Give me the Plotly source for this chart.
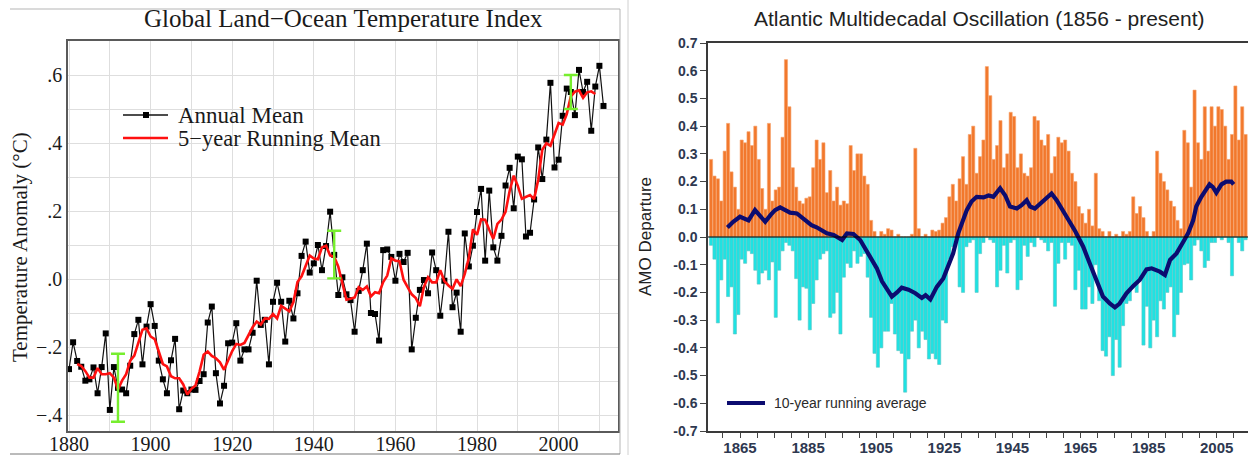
import plotly.graph_objects as go

W, H = 1248, 455

# ---------------- Left panel: Global Land-Ocean Temperature Index ----------------
giss_years = list(range(1880, 2012))
annual_mean = [
    -0.265, -0.186, -0.241, -0.258, -0.299, -0.295, -0.260, -0.336, -0.259, -0.160,   # 1880s
    -0.385, -0.259, -0.320, -0.325, -0.336, -0.255, -0.162, -0.120, -0.251, -0.140,   # 1890s
    -0.074, -0.138, -0.240, -0.295, -0.336, -0.239, -0.176, -0.383, -0.328, -0.336,   # 1900s
    -0.325, -0.326, -0.300, -0.280, -0.128, -0.081, -0.277, -0.366, -0.314, -0.189,   # 1910s
    -0.187, -0.130, -0.240, -0.207, -0.207, -0.158, -0.005, -0.135, -0.120, -0.251,   # 1920s
    -0.067, -0.011, -0.067, -0.184, -0.064, -0.116, -0.042, 0.068, 0.110, 0.019,      # 1930s
    0.046, 0.100, 0.026, 0.097, 0.198, 0.071, -0.047, 0.005, -0.045, -0.062,          # 1940s
    -0.155, -0.035, 0.026, 0.104, -0.100, -0.103, -0.181, 0.085, 0.087, 0.065,        # 1950s
    -0.005, 0.074, 0.050, 0.077, -0.207, -0.114, -0.032, -0.003, -0.042, 0.078,       # 1960s
    0.026, -0.108, -0.005, 0.139, -0.083, -0.040, -0.155, 0.134, 0.037, 0.098,        # 1970s
    0.197, 0.265, 0.054, 0.260, 0.093, 0.054, 0.127, 0.275, 0.327, 0.208,             # 1980s
    0.360, 0.352, 0.125, 0.136, 0.234, 0.387, 0.294, 0.410, 0.577, 0.328,             # 1990s
    0.351, 0.480, 0.560, 0.550, 0.482, 0.615, 0.550, 0.580, 0.436, 0.566,             # 2000s
    0.627, 0.509,                                                                     # 2010-11
]
run5_years = list(range(1882, 2010))
run5_mean = [
    -0.250, -0.256, -0.271, -0.290, -0.290, -0.262, -0.280, -0.280,                   # 1882-89
    -0.277, -0.290, -0.325, -0.299, -0.280, -0.240, -0.225, -0.186, -0.149, -0.145,   # 1890s
    -0.169, -0.177, -0.217, -0.250, -0.257, -0.286, -0.292, -0.292, -0.310, -0.340,   # 1900s
    -0.323, -0.313, -0.272, -0.223, -0.213, -0.226, -0.233, -0.245, -0.267, -0.237,   # 1910s
    -0.212, -0.191, -0.194, -0.188, -0.163, -0.142, -0.125, -0.134, -0.116, -0.117,   # 1920s
    -0.103, -0.116, -0.079, -0.088, -0.095, -0.068, -0.009, 0.008, 0.040, 0.069,      # 1930s
    0.060, 0.058, 0.093, 0.098, 0.069, 0.065, 0.036, -0.016, -0.061, -0.058,          # 1940s
    -0.054, -0.024, -0.032, -0.022, -0.051, -0.039, -0.042, -0.009, 0.010, 0.061,     # 1950s
    0.054, 0.052, -0.002, -0.024, -0.045, -0.056, -0.080, -0.023, 0.005, -0.010,      # 1960s
    -0.010, 0.026, -0.006, -0.019, -0.029, -0.001, -0.021, 0.015, 0.062, 0.146,       # 1970s
    0.130, 0.175, 0.174, 0.145, 0.118, 0.162, 0.175, 0.198, 0.259, 0.304,             # 1980s
    0.274, 0.236, 0.241, 0.247, 0.235, 0.292, 0.380, 0.399, 0.392, 0.429,             # 1990s
    0.459, 0.454, 0.485, 0.537, 0.551, 0.555, 0.533, 0.549, 0.552, 0.544,             # 2000s
]
err_years = [1892, 1945, 2003]
err_center = [-0.32, 0.072, 0.55]
err_half = [0.10, 0.07, 0.05]

left_xticks = [1880, 1900, 1920, 1940, 1960, 1980, 2000]
left_yticks = [-0.4, -0.2, 0.0, 0.2, 0.4, 0.6]
left_yticktext = ["\u2212.4", "\u2212.2", ".0", ".2", ".4", ".6"]

# ---------------- Right panel: Atlantic Multidecadal Oscillation ----------------
amo_years = list(range(1856, 2014))
amo_pos = [
    0.28, 0.22, 0.21, 0.13,                                                   # 1856-59
    0.31, 0.41, 0.235, 0.18, 0.10, 0.35, 0.34, 0.38, 0.33, 0.40,              # 1860s
    0.28, 0.175, 0.10, 0.41, 0.13, 0.17, 0.18, 0.36, 0.64, 0.47,              # 1870s
    0.25, 0.18, 0.13, 0.12, 0.14, 0.145, 0.25, 0.35, 0.28, 0.34,              # 1880s
    0.16, 0.24, 0.13, 0.18, 0.115, 0.13, 0.12, 0.33, 0.24, 0.30,              # 1890s
    0.30, 0.22, 0.19, 0.06, 0.02, 0.0, 0.02, 0.01, 0.03, 0.025,               # 1900s
    0.0, 0.01, 0.0, 0.0, 0.0, 0.01, 0.32, 0.03, 0.0, 0.01,                    # 1910s
    0.0, 0.025, 0.02, 0.025, 0.05, 0.07, 0.145, 0.19, 0.13, 0.21,             # 1920s
    0.29, 0.19, 0.37, 0.40, 0.23, 0.29, 0.35, 0.615, 0.51, 0.28,              # 1930s
    0.33, 0.42, 0.25, 0.30, 0.45, 0.435, 0.25, 0.30, 0.23, 0.22,              # 1940s
    0.25, 0.435, 0.42, 0.35, 0.33, 0.37, 0.23, 0.29, 0.36, 0.34,              # 1950s
    0.35, 0.31, 0.23, 0.20, 0.11, 0.085, 0.05, 0.10, 0.04, 0.23,              # 1960s
    0.03, 0.02, 0.0, 0.02, 0.0, 0.01, 0.0, 0.02, 0.01, 0.02,                  # 1970s
    0.145, 0.085, 0.11, 0.07, 0.02, 0.0, 0.02, 0.31, 0.23, 0.20,              # 1980s
    0.17, 0.13, 0.11, 0.06, 0.03, 0.385, 0.34, 0.18, 0.53, 0.34,              # 1990s
    0.28, 0.47, 0.31, 0.47, 0.40, 0.47, 0.46, 0.40, 0.28, 0.37,               # 2000s
    0.545, 0.35, 0.47, 0.37,                                                  # 2010-13
]
amo_neg = [
    -0.03, -0.08, -0.31, -0.155,                                              # 1856-59
    -0.08, -0.215, -0.18, -0.35, -0.28, -0.08, -0.095, -0.05, -0.06, -0.12,   # 1860s
    -0.17, -0.13, -0.12, -0.155, -0.09, -0.29, -0.12, -0.05, -0.02, -0.03,    # 1870s
    -0.05, -0.15, -0.30, -0.18, -0.185, -0.335, -0.24, -0.155, -0.08, -0.06,  # 1880s
    -0.05, -0.29, -0.275, -0.20, -0.35, -0.145, -0.095, -0.11, -0.05, -0.095, # 1890s
    -0.07, -0.06, -0.145, -0.29, -0.42, -0.47, -0.40, -0.34, -0.34, -0.24,    # 1900s
    -0.35, -0.41, -0.42, -0.56, -0.44, -0.34, -0.30, -0.40, -0.34, -0.37,     # 1910s
    -0.44, -0.42, -0.44, -0.46, -0.30, -0.31, -0.08, -0.035, -0.01, -0.18,    # 1920s
    -0.20, -0.035, -0.02, -0.01, -0.20, -0.06, -0.02, 0.0, -0.01, -0.02,      # 1930s
    -0.18, -0.12, -0.03, -0.13, -0.02, -0.01, -0.19, -0.155, -0.03, -0.07,    # 1940s
    -0.02, -0.035, 0.0, -0.01, -0.02, -0.05, -0.02, -0.25, -0.095, -0.02,     # 1950s
    -0.08, -0.02, -0.03, -0.19, -0.12, -0.26, -0.26, -0.18, -0.24, -0.10,     # 1960s
    -0.23, -0.41, -0.43, -0.36, -0.50, -0.37, -0.47, -0.32, -0.24, -0.23,     # 1970s
    -0.18, -0.20, -0.15, -0.39, -0.25, -0.40, -0.30, -0.36, -0.23, -0.26,     # 1980s
    -0.20, -0.18, -0.36, -0.28, -0.20, -0.10, -0.095, -0.155, -0.03, -0.01,   # 1990s
    -0.05, -0.11, -0.085, -0.02, -0.02, 0.0, -0.01, 0.0, -0.02, -0.14,        # 2000s
    0.0, -0.02, -0.05, -0.01,                                                 # 2010-13
]
avg_years = [
    1861.3, 1863.0, 1865.0, 1866.5, 1867.5, 1869.4, 1871.0, 1872.4, 1874.0, 1875.3,
    1876.8, 1878.2, 1879.7, 1881.7, 1883.0, 1884.6, 1886.0, 1887.5, 1889.0, 1890.5,
    1892.5, 1895.0, 1896.4, 1898.3, 1900.3, 1901.8, 1903.2, 1905.2, 1906.7, 1908.1,
    1909.6, 1911.1, 1912.5, 1914.5, 1916.5, 1918.4, 1919.5, 1920.9, 1922.8, 1924.7,
    1926.2, 1927.6, 1929.1, 1930.1, 1931.6, 1933.0, 1934.5, 1936.5, 1938.0, 1939.4,
    1941.4, 1942.9, 1944.3, 1946.3, 1947.7, 1949.2, 1950.2, 1951.6, 1953.1, 1955.0,
    1956.5, 1958.0, 1959.9, 1961.8, 1963.5, 1965.8, 1967.7, 1969.7, 1971.6, 1973.6,
    1975.1, 1976.5, 1978.5, 1980.5, 1982.4, 1984.4, 1985.9, 1988.3, 1989.8, 1991.3,
    1993.2, 1995.2, 1996.6, 1998.1, 1999.0, 2000.5, 2002.0, 2002.9, 2003.9, 2004.9,
    2006.4, 2007.8, 2009.3, 2010.0,
]
avg_vals = [
    0.034, 0.055, 0.073, 0.065, 0.060, 0.097, 0.075, 0.055, 0.080, 0.097,
    0.107, 0.097, 0.088, 0.085, 0.073, 0.055, 0.043, 0.035, 0.025, 0.013,
    0.007, -0.011, 0.013, 0.011, -0.011, -0.041, -0.070, -0.113, -0.160, -0.190,
    -0.215, -0.200, -0.183, -0.190, -0.203, -0.220, -0.210, -0.225, -0.180, -0.150,
    -0.107, -0.059, 0.013, 0.045, 0.097, 0.128, 0.145, 0.143, 0.150, 0.145,
    0.176, 0.150, 0.110, 0.103, 0.115, 0.133, 0.110, 0.103, 0.120, 0.140,
    0.157, 0.133, 0.097, 0.055, 0.020, -0.035, -0.095, -0.155, -0.215, -0.240,
    -0.254, -0.240, -0.203, -0.177, -0.155, -0.117, -0.113, -0.125, -0.137, -0.083,
    -0.059, -0.017, 0.013, 0.060, 0.110, 0.145, 0.176, 0.190, 0.180, 0.160,
    0.190, 0.200, 0.200, 0.190,
]
right_xticks = [1865, 1885, 1905, 1925, 1945, 1965, 1985, 2005]
right_yticks = [-0.7, -0.6, -0.5, -0.4, -0.3, -0.2, -0.1, 0.0, 0.1, 0.2, 0.3, 0.4, 0.5, 0.6, 0.7]
right_yticktext = ["-0.7", "-0.6", "-0.5", "-0.4", "-0.3", "-0.2", "-0.1", "0.0",
                   "0.1", "0.2", "0.3", "0.4", "0.5", "0.6", "0.7"]

SERIF = "Liberation Serif, Times New Roman, serif"
SANS = "Liberation Sans, Arial, sans-serif"


def px(x):
    return x / W


def py(y):
    return 1 - y / H


fig = go.Figure()

# left traces
fig.add_trace(go.Scatter(
    x=giss_years, y=annual_mean, mode="lines+markers",
    line=dict(color="#111111", width=1.2),
    marker=dict(symbol="square", size=6, color="#000000"),
    xaxis="x", yaxis="y", showlegend=False))
fig.add_trace(go.Scatter(
    x=run5_years, y=run5_mean, mode="lines",
    line=dict(color="#ff1010", width=2.6),
    xaxis="x", yaxis="y", showlegend=False))
fig.add_trace(go.Scatter(
    x=err_years, y=err_center, mode="markers",
    marker=dict(size=1, color="rgba(0,0,0,0)"),
    error_y=dict(type="data", array=err_half, color="#77ee2e", thickness=2.4, width=7),
    xaxis="x", yaxis="y", showlegend=False))

# right traces
bar_x = [y + 0.5 for y in amo_years]
fig.add_trace(go.Bar(
    x=bar_x, y=amo_pos, width=0.92,
    marker=dict(color="#f2782c", line=dict(color="#f6a56f", width=0.6)),
    xaxis="x2", yaxis="y2", showlegend=False))
fig.add_trace(go.Bar(
    x=bar_x, y=amo_neg, width=0.92,
    marker=dict(color="#1ee3e3", line=dict(color="#5cc4c4", width=0.6)),
    xaxis="x2", yaxis="y2", showlegend=False))
fig.add_trace(go.Scatter(
    x=avg_years, y=avg_vals, mode="lines",
    line=dict(color="#0c0c70", width=4.2),
    xaxis="x2", yaxis="y2", showlegend=False))

grid_c = "#dedede"
fig.update_layout(
    width=W, height=H,
    autosize=False,
    margin=dict(l=0, r=0, t=0, b=0, pad=0, autoexpand=False),
    paper_bgcolor="white", plot_bgcolor="white",
    barmode="overlay",
    xaxis=dict(
        domain=[px(68), px(618)], range=[1879.75, 2014.56], automargin=False,
        tickmode="array", tickvals=left_xticks,
        showgrid=True, gridcolor=grid_c, gridwidth=1.3,
        minor=dict(tickmode="linear", tick0=1880, dtick=10, showgrid=True,
                   gridcolor=grid_c, gridwidth=1.3),
        showline=True, mirror=True, linecolor="#5a5a5a", linewidth=1.6,
        ticks="", zeroline=False, ticklabelstandoff=-6,
        tickfont=dict(family=SERIF, size=20, color="#1a1a1a"),
    ),
    yaxis=dict(
        domain=[py(431), py(41)], range=[-0.447, 0.70], automargin=False,
        tickmode="array", tickvals=left_yticks, ticktext=left_yticktext,
        showgrid=True, gridcolor=grid_c, gridwidth=1.3,
        minor=dict(tickmode="linear", tick0=0, dtick=0.1, showgrid=True,
                   gridcolor=grid_c, gridwidth=1.3),
        showline=True, mirror=True, linecolor="#5a5a5a", linewidth=1.6,
        ticks="", zeroline=False,
        tickfont=dict(family=SERIF, size=20, color="#1a1a1a"),
    ),
    xaxis2=dict(
        domain=[px(708), 1.0], range=[1855.6, 2014.2], anchor="y2", automargin=False,
        tickmode="array", tickvals=right_xticks,
        ticks="outside", ticklen=5, tickcolor="#444444", tickwidth=1.2,
        minor=dict(tickmode="linear", tick0=1865, dtick=5, ticks="outside",
                   ticklen=5, tickcolor="#444444", tickwidth=1.2, showgrid=False),
        showgrid=False, zeroline=False, ticklabelstandoff=-3,
        showline=True, mirror=True, linecolor="#3a3a3a", linewidth=1.5,
        tickfont=dict(family=SANS, size=15, color="#2e3850", weight="bold"),
    ),
    yaxis2=dict(
        domain=[py(431), py(43)], range=[-0.7, 0.7], anchor="x2", automargin=False,
        tickmode="array", tickvals=right_yticks, ticktext=right_yticktext,
        ticks="outside", ticklen=6, tickcolor="#444444", tickwidth=1.2,
        showgrid=False, zeroline=False,
        showline=True, linecolor="#3a3a3a", linewidth=1.5,
        tickfont=dict(family=SANS, size=14, color="#2e3850", weight="bold"),
    ),
)

# zero line of the AMO panel
fig.add_shape(type="line", xref="x2 domain", yref="y2", x0=0, x1=1, y0=0, y1=0,
              line=dict(color="#000000", width=1.2), layer="above")

# panel frame lines
frame = dict(color="#b5b5b5", width=1)
fig.add_shape(type="line", xref="paper", yref="paper", x0=px(10), x1=px(620), y0=py(9), y1=py(9), line=frame)
fig.add_shape(type="line", xref="paper", yref="paper", x0=px(620), x1=px(620), y0=py(9), y1=py(454), line=frame)
fig.add_shape(type="line", xref="paper", yref="paper", x0=px(10), x1=px(620), y0=py(454), y1=py(454),
              line=dict(color="#777777", width=1))
fig.add_shape(type="line", xref="paper", yref="paper", x0=px(628), x1=px(628), y0=0, y1=1,
              line=dict(color="#d0d0d0", width=1))

# left legend (drawn)
fig.add_shape(type="line", xref="paper", yref="paper", x0=px(123), x1=px(168), y0=py(115), y1=py(115),
              line=dict(color="#111111", width=1.3))
fig.add_shape(type="rect", xref="paper", yref="paper", x0=px(143), x1=px(149), y0=py(118), y1=py(112),
              line=dict(color="#000000", width=0), fillcolor="#000000")
fig.add_shape(type="line", xref="paper", yref="paper", x0=px(123), x1=px(168), y0=py(138), y1=py(138),
              line=dict(color="#ff1010", width=2.6))

# right legend (drawn)
fig.add_shape(type="line", xref="paper", yref="paper", x0=px(727), x1=px(765), y0=py(403), y1=py(403),
              line=dict(color="#0c0c70", width=4.2))

ann = [
    dict(text="Global Land\u2212Ocean Temperature Index", x=px(343), y=py(19),
         font=dict(family=SERIF, size=25, color="#1a1a1a")),
    dict(text="Temperature Anomaly (\u00b0C)", x=px(20), y=py(247), textangle=-90,
         font=dict(family=SERIF, size=21, color="#1a1a1a")),
    dict(text="Annual Mean", x=px(176), y=py(115), xanchor="left",
         font=dict(family=SERIF, size=23, color="#1a1a1a")),
    dict(text="5\u2212year Running Mean", x=px(176), y=py(138), xanchor="left",
         font=dict(family=SERIF, size=22.5, color="#1a1a1a")),
    dict(text="Atlantic Multidecadal Oscillation (1856 - present)", x=px(979), y=py(19),
         font=dict(family=SANS, size=21, color="#222222")),
    dict(text="AMO Departure", x=px(645), y=py(237), textangle=-90,
         font=dict(family=SANS, size=17, color="#222222")),
    dict(text="10-year running average", x=px(772), y=py(403), xanchor="left",
         font=dict(family=SANS, size=14, color="#2a2a2a")),
]
for a in ann:
    a.setdefault("xanchor", "center")
    fig.add_annotation(xref="paper", yref="paper", yanchor="middle", showarrow=False, **a)

fig.write_html(
    "out.html",
    config={"displayModeBar": False},
    post_script="document.body.style.margin='0';document.body.style.overflow='hidden';",
)
